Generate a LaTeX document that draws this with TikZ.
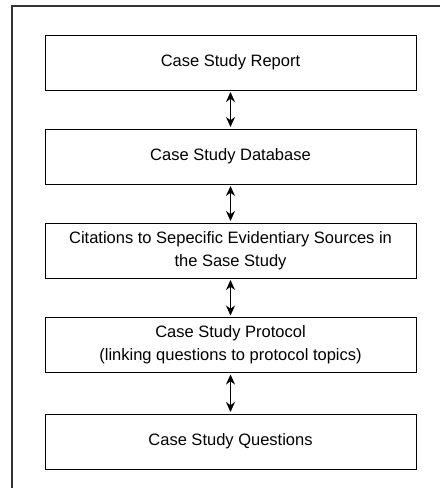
\documentclass[tikz,border=0pt]{standalone}
\usepackage{fontspec}
\setmainfont{Liberation Sans}
\usetikzlibrary{arrows.meta}

\tikzset{
  stage/.style = {draw, line width=1pt, minimum width=371pt, minimum height=55pt,
                  inner sep=0pt, align=center, font=\fontsize{16.5}{23}\selectfont},
  link/.style  = {line width=1.3pt, {Stealth[length=10pt,width=9pt]}-{Stealth[length=10pt,width=9pt]},
                  shorten <=1.5pt, shorten >=1.5pt}
}

\begin{document}
\begin{tikzpicture}[x=1pt, y=-1pt]
  \useasboundingbox (0, 0) rectangle (440, 488);
  % outer frame (only top and left edge inside the page)
  \draw[line width=1.3pt, black!80] (12, 488) -- (12, 6) -- (440, 6);

  \node[stage] (report)    at (230.5, 62.5)  {Case Study Report};
  \node[stage] (database)  at (230.5, 156.5) {Case Study Database};
  \node[stage] (citations) at (230.5, 250.5) {Citations to Sepecific Evidentiary Sources in\\the Sase Study};
  \node[stage] (protocol)  at (230.5, 345)   {Case Study Protocol\\(linking questions to protocol topics)};
  \node[stage] (questions) at (230.5, 441.5) {Case Study Questions};

  \draw[link] (report.south) -- (database.north);
  \draw[link] (database.south) -- (citations.north);
  \draw[link] (citations.south) -- (protocol.north);
  \draw[link] (protocol.south) -- (questions.north);
\end{tikzpicture}
\end{document}
